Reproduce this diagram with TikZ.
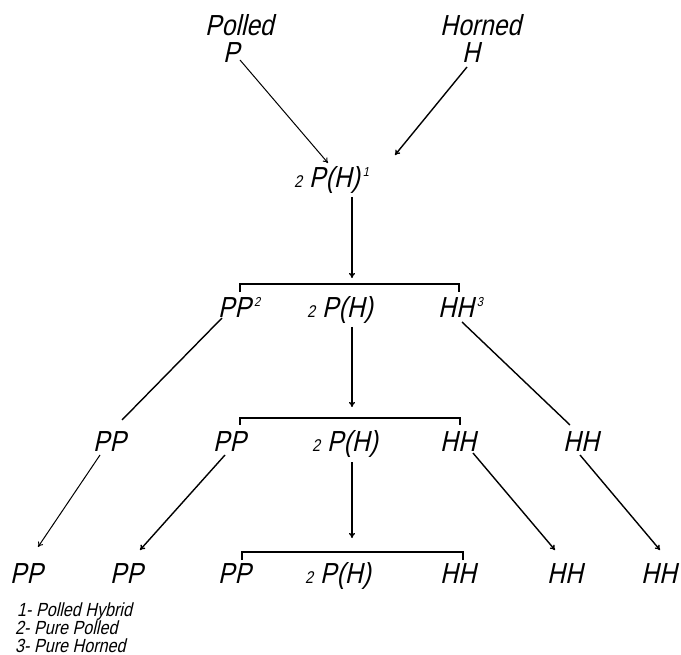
\documentclass[tikz,border=0pt]{standalone}
\usepackage{fontspec}
\setmainfont{Liberation Sans}[FakeSlant=0.22,FakeStretch=0.85]
\usetikzlibrary{arrows.meta}
\newcommand{\bigf}{\fontsize{29}{29}\selectfont}
\newcommand{\smallf}{\fontsize{17}{17}\selectfont}
\newcommand{\legf}{\fontsize{19}{19}\selectfont}
\newcommand{\supr}[1]{\hspace{3pt}\raisebox{11pt}{\fontsize{13}{13}\selectfont #1}}
\newcommand{\twoP}{{\smallf 2}\hspace{7pt}P(H)}
\begin{document}
\begin{tikzpicture}[x=1pt,y=-1pt,
  lab/.style={anchor=base west,inner sep=0pt,font=\bigf},
  leg/.style={anchor=base west,inner sep=0pt,font=\legf},
  conn/.style={line width=1.4pt},
  arr/.style={line width=1.4pt,-{To[length=5pt,width=6pt]}},
  thinarr/.style={line width=1pt,-{To[length=5pt,width=6pt]}},
  brk/.style={line width=1.3pt}]
\useasboundingbox (0,0) rectangle (681,655);
% top row
\node[lab] (polled) at (205,36) {Polled};
\node[lab] (horned) at (440,36) {Horned};
\node[lab] (p0) at (223,63) {P};
\node[lab] (h0) at (462,63) {H};
\node[lab] (f1) at (294,188) {\twoP\supr{1}};
% row 2
\node[lab] (r2a) at (218,318) {PP\supr{2}};
\node[lab] (r2b) at (307,318) {\twoP};
\node[lab] (r2c) at (438,318) {HH\supr{3}};
% row 3
\node[lab] (r3a) at (93,452) {PP};
\node[lab] (r3b) at (213,452) {PP};
\node[lab] (r3c) at (312,452) {\twoP};
\node[lab] (r3d) at (440,452) {HH};
\node[lab] (r3e) at (563,452) {HH};
% row 4
\node[lab] (r4a) at (10,583) {PP};
\node[lab] (r4b) at (110,583) {PP};
\node[lab] (r4c) at (218,583) {PP};
\node[lab] (r4d) at (305,583) {\twoP};
\node[lab] (r4e) at (440,583) {HH};
\node[lab] (r4f) at (547,583) {HH};
\node[lab] (r4g) at (641,583) {HH};
% legend
\node[leg] (l1) at (17,616) {1- Polled Hybrid};
\node[leg] (l2) at (15,634) {2- Pure Polled};
\node[leg] (l3) at (15,652) {3- Pure Horned};
% connector end points
\coordinate (p0o) at (240,60);  \coordinate (f1a) at (328,163);
\coordinate (h0o) at (467,67);  \coordinate (f1b) at (395,155);
\coordinate (f1o) at (352,197); \coordinate (b2t) at (352,278);
\coordinate (r2bo) at (352,327); \coordinate (b3t) at (352,407);
\coordinate (r3co) at (352,462); \coordinate (b4t) at (352,538);
\coordinate (r2ao) at (222,318); \coordinate (r3ai) at (122,420);
\coordinate (r2co) at (462,322); \coordinate (r3ei) at (570,425);
\coordinate (r3ao) at (100,455); \coordinate (r4ai) at (38,547);
\coordinate (r3bo) at (225,455); \coordinate (r4bi) at (140,550);
\coordinate (r3do) at (473,453); \coordinate (r4fi) at (555,550);
\coordinate (r3eo) at (580,455); \coordinate (r4gi) at (660,550);
% connectors
\draw[thinarr] (p0o) -- (f1a);
\draw[arr] (h0o) -- (f1b);
\draw[arr] (f1o) -- (b2t);
\draw[arr] (r2bo) -- (b3t);
\draw[arr] (r3co) -- (b4t);
\draw[conn] (r2ao) -- (r3ai);
\draw[conn] (r2co) -- (r3ei);
\draw[thinarr] (r3ao) -- (r4ai);
\draw[arr] (r3bo) -- (r4bi);
\draw[arr] (r3do) -- (r4fi);
\draw[arr] (r3eo) -- (r4gi);
% brackets
\draw[brk] (240,292) -- (240,284) -- (459,284) -- (459,292);
\draw[brk] (240,425) -- (240,418) -- (460,418) -- (460,425);
\draw[brk] (242,560) -- (242,552) -- (463,552) -- (463,560);
\end{tikzpicture}
\end{document}
